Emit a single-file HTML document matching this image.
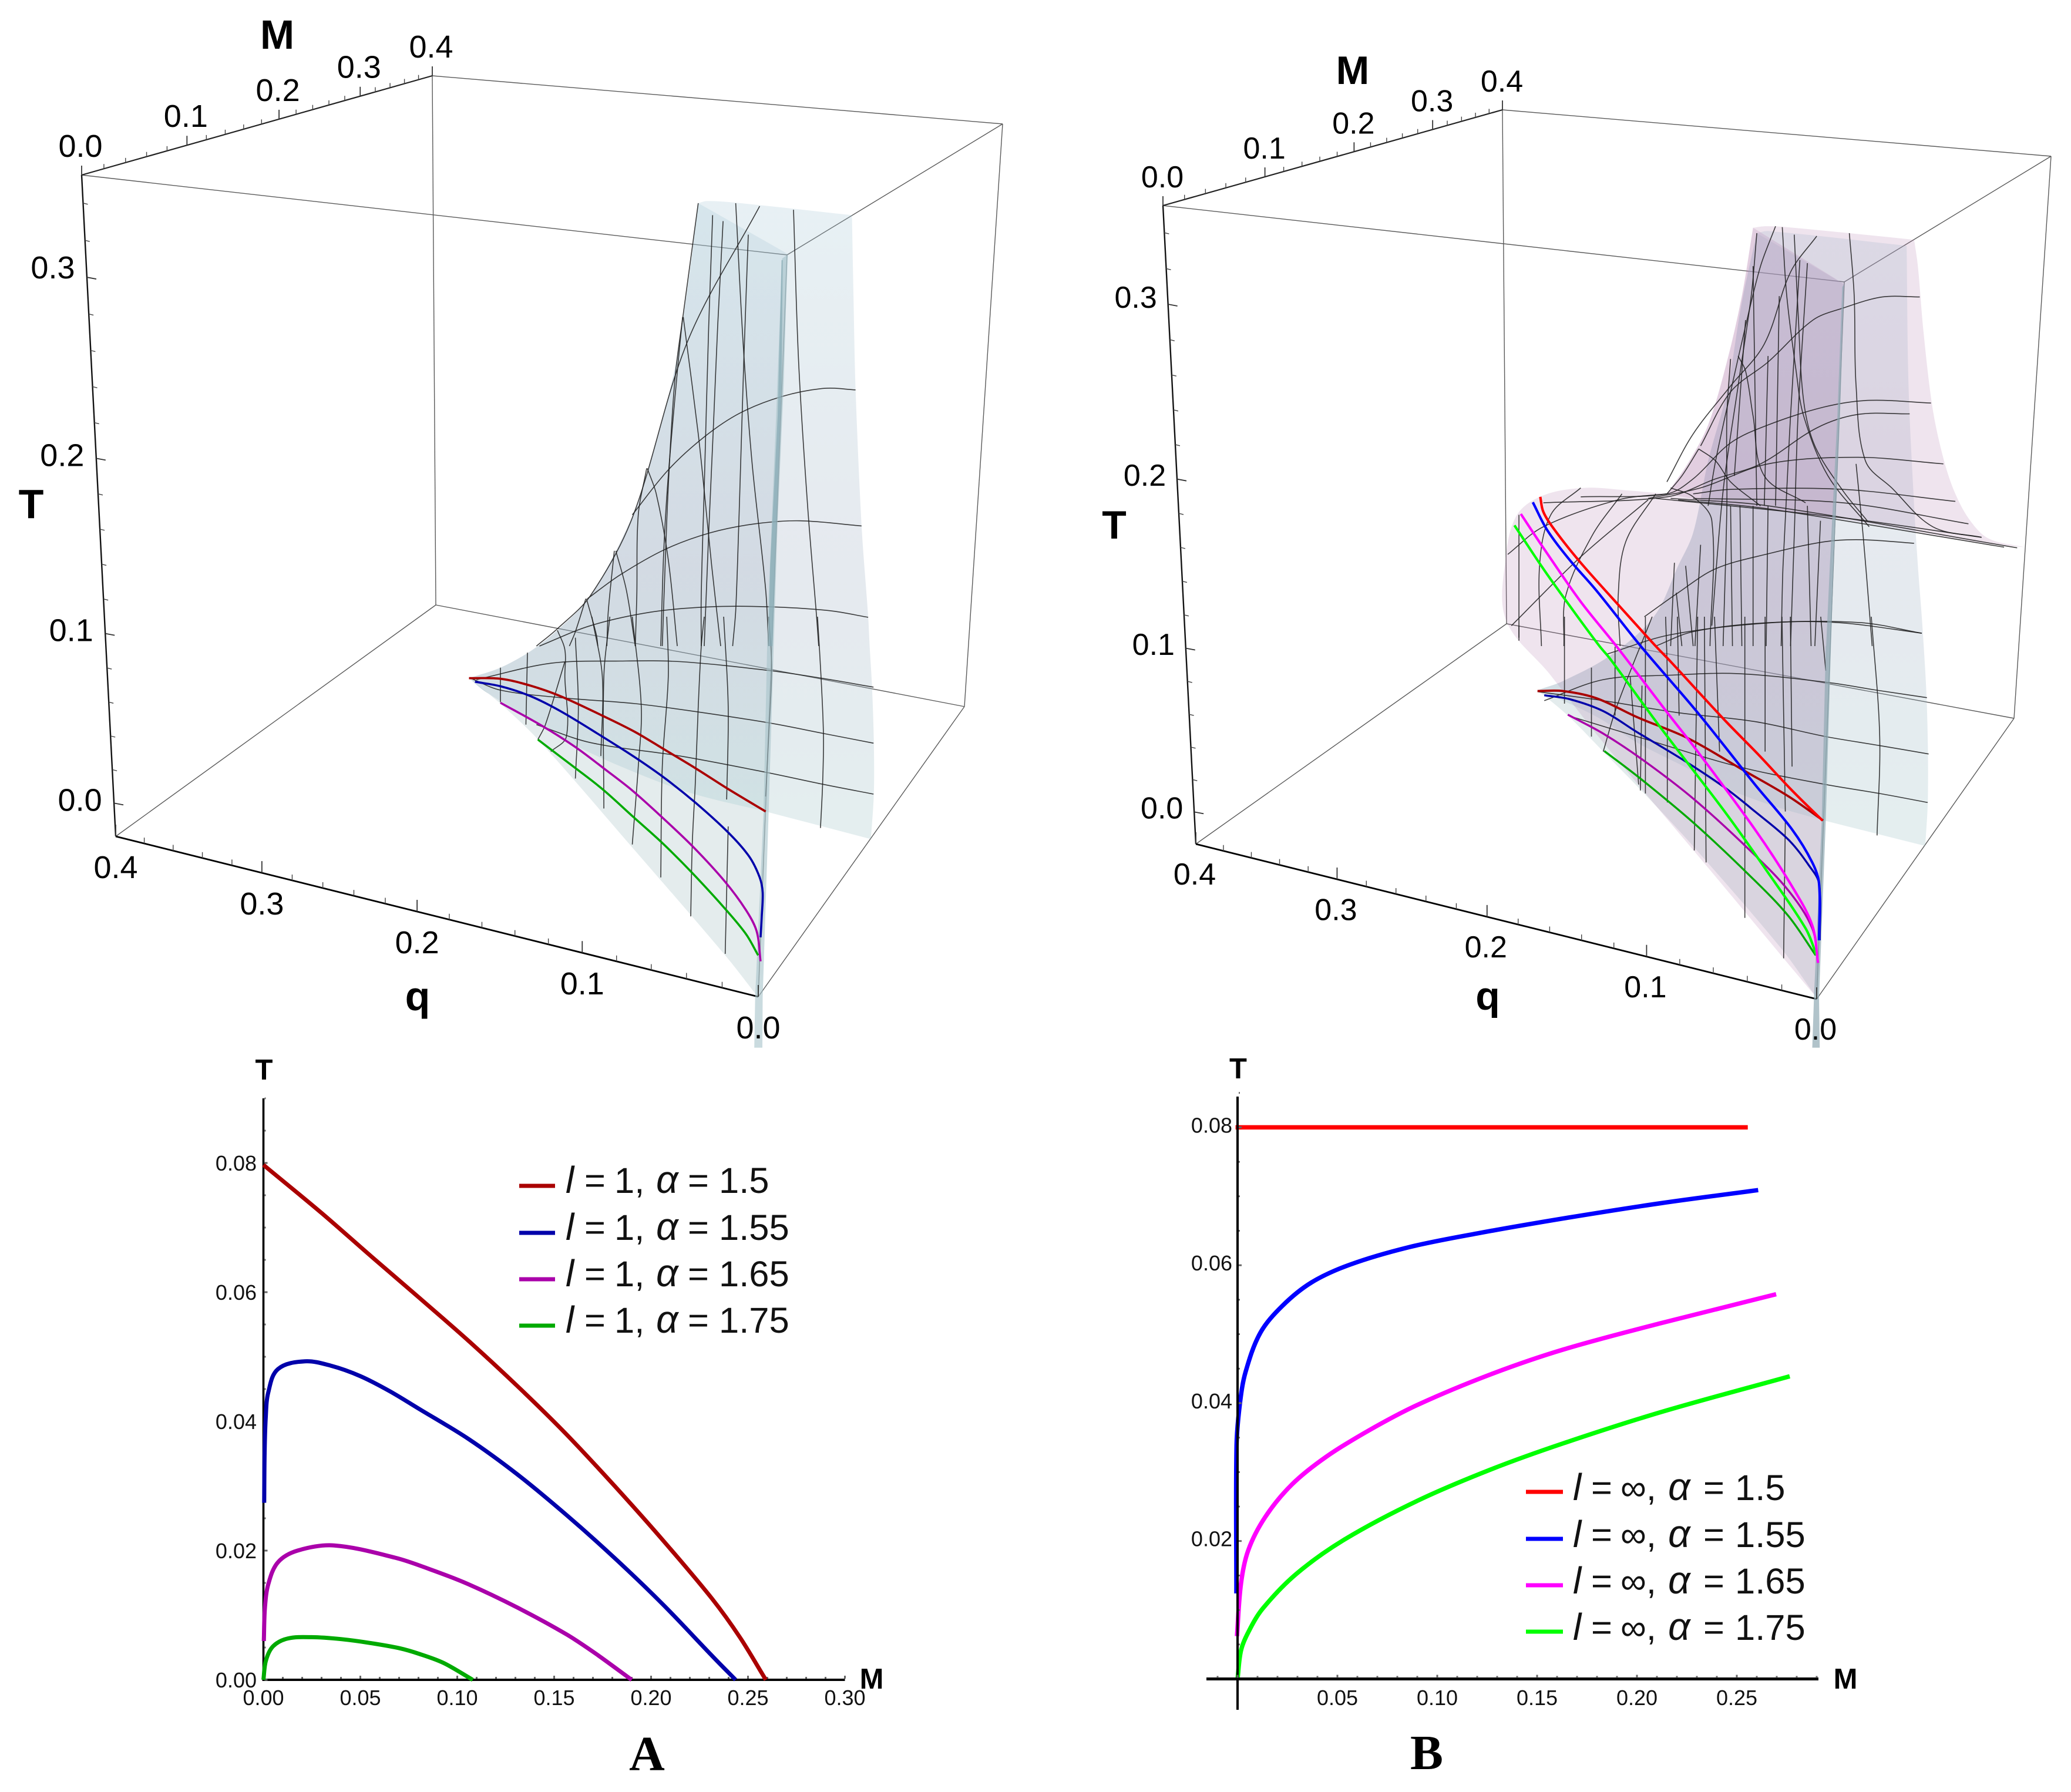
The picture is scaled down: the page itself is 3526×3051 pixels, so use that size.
<!DOCTYPE html>
<html lang="en">
<head>
<meta charset="utf-8">
<title>Phase surfaces and T(M) curves</title>
<style>
html,body{margin:0;padding:0;background:#fff;}
svg{display:block;font-family:"Liberation Sans",sans-serif;}
.tick{font-size:36px;fill:#111;}
.axis-title{font-weight:bold;fill:#000;}
.legend{font-size:61.5px;fill:#111;}
.legend .al{font-style:italic;font-size:66px;}
.legend .el{font-style:italic;font-size:64px;}
.panel-letter{font-family:"Liberation Serif",serif;font-weight:bold;font-size:84px;fill:#000;}
</style>
</head>
<body>
<svg id="figure" xmlns="http://www.w3.org/2000/svg" width="3526" height="3051" viewBox="0 0 3526 3051">
<rect width="3526" height="3051" fill="#fff"/>
<g id="panel-left"></g>
<g id="panel-right"></g>
<g id="chart-a"></g>
<g id="chart-b"></g>

<g>
<text class="axis-title" font-size="70" x="53" y="882" text-anchor="middle">T</text>
<text class="axis-title" font-size="70" x="472" y="83" text-anchor="middle">M</text>
<text class="axis-title" font-size="70" x="711" y="1720" text-anchor="middle">q</text>
</g>
<g>
<text class="axis-title" font-size="68" x="1897" y="917" text-anchor="middle">T</text>
<text class="axis-title" font-size="68" x="2303" y="143" text-anchor="middle">M</text>
<text class="axis-title" font-size="68" x="2533" y="1719" text-anchor="middle">q</text>
</g>

<g>
<text class="axis-title" font-size="49" x="449.5" y="1838" text-anchor="middle">T</text>
<text class="axis-title" font-size="49" x="1484" y="2875" text-anchor="middle">M</text>
<text class="panel-letter" x="1101.5" y="3014" text-anchor="middle">A</text>
</g>
<g>
<text class="axis-title" font-size="49" x="2108" y="1836" text-anchor="middle">T</text>
<text class="axis-title" font-size="49" x="3142" y="2875" text-anchor="middle">M</text>
<text class="panel-letter" x="2429" y="3012" text-anchor="middle">B</text>
</g>

<g>
<g><line x1="884" x2="945" y1="2019" y2="2019" stroke="#aa0000" stroke-width="7"/><text class="legend" y="2031"><tspan x="963" class="el">l</tspan><tspan x="995">=</tspan><tspan x="1046">1,</tspan><tspan x="1117" class="al">α</tspan><tspan x="1171">=</tspan><tspan x="1224">1.5</tspan></text></g>
<g><line x1="884" x2="945" y1="2099" y2="2099" stroke="#0000aa" stroke-width="7"/><text class="legend" y="2111"><tspan x="963" class="el">l</tspan><tspan x="995">=</tspan><tspan x="1046">1,</tspan><tspan x="1117" class="al">α</tspan><tspan x="1171">=</tspan><tspan x="1224">1.55</tspan></text></g>
<g><line x1="884" x2="945" y1="2178" y2="2178" stroke="#aa00aa" stroke-width="7"/><text class="legend" y="2190"><tspan x="963" class="el">l</tspan><tspan x="995">=</tspan><tspan x="1046">1,</tspan><tspan x="1117" class="al">α</tspan><tspan x="1171">=</tspan><tspan x="1224">1.65</tspan></text></g>
<g><line x1="884" x2="945" y1="2257" y2="2257" stroke="#00aa00" stroke-width="7"/><text class="legend" y="2269"><tspan x="963" class="el">l</tspan><tspan x="995">=</tspan><tspan x="1046">1,</tspan><tspan x="1117" class="al">α</tspan><tspan x="1171">=</tspan><tspan x="1224">1.75</tspan></text></g>
</g>
<g>
<g><line x1="2598" x2="2661" y1="2540" y2="2540" stroke="#ff0000" stroke-width="7"/><text class="legend" y="2554"><tspan x="2678" class="el">l</tspan><tspan x="2709">=</tspan><tspan x="2759">∞,</tspan><tspan x="2840" class="al">α</tspan><tspan x="2900">=</tspan><tspan x="2954">1.5</tspan></text></g>
<g><line x1="2598" x2="2661" y1="2620" y2="2620" stroke="#0000ff" stroke-width="7"/><text class="legend" y="2634"><tspan x="2678" class="el">l</tspan><tspan x="2709">=</tspan><tspan x="2759">∞,</tspan><tspan x="2840" class="al">α</tspan><tspan x="2900">=</tspan><tspan x="2954">1.55</tspan></text></g>
<g><line x1="2598" x2="2661" y1="2699" y2="2699" stroke="#ff00ff" stroke-width="7"/><text class="legend" y="2713"><tspan x="2678" class="el">l</tspan><tspan x="2709">=</tspan><tspan x="2759">∞,</tspan><tspan x="2840" class="al">α</tspan><tspan x="2900">=</tspan><tspan x="2954">1.65</tspan></text></g>
<g><line x1="2598" x2="2661" y1="2778" y2="2778" stroke="#00ff00" stroke-width="7"/><text class="legend" y="2792"><tspan x="2678" class="el">l</tspan><tspan x="2709">=</tspan><tspan x="2759">∞,</tspan><tspan x="2840" class="al">α</tspan><tspan x="2900">=</tspan><tspan x="2954">1.75</tspan></text></g>
</g>
</svg>

<script>
/* ---------- Chart A values (M, T) ---------- */
const aXTickValues = [0, 0.05, 0.10, 0.15, 0.20, 0.25, 0.30];
const aXTickLabels = ['0.00', '0.05', '0.10', '0.15', '0.20', '0.25', '0.30'];
const aYTickValues = [0, 0.02, 0.04, 0.06, 0.08];
const aYTickLabels = ['0.00', '0.02', '0.04', '0.06', '0.08'];
const aRedM = [0, 0.0302, 0.0554, 0.0805, 0.1057, 0.1309, 0.156, 0.1812, 0.2064, 0.2316, 0.246, 0.2592];
const aRedT = [0.0797, 0.0722, 0.0656, 0.0591, 0.0525, 0.0455, 0.0381, 0.03, 0.0215, 0.0125, 0.0065, 0];
const aBlueM = [0.0004, 0.0006, 0.0012, 0.0025, 0.0075, 0.0214, 0.035, 0.05, 0.065, 0.0805, 0.1057, 0.131, 0.156, 0.181, 0.206, 0.2315, 0.2436];
const aBlueT = [0.0274, 0.035, 0.0407, 0.0445, 0.0481, 0.0493, 0.0486, 0.047, 0.0447, 0.0419, 0.0373, 0.0318, 0.0256, 0.0189, 0.0117, 0.0037, 0];
const aMagentaM = [0.0002, 0.0008, 0.0025, 0.0075, 0.0176, 0.0365, 0.068, 0.086, 0.1057, 0.1309, 0.156, 0.1712, 0.19];
const aMagentaT = [0.006, 0.0112, 0.0148, 0.0182, 0.02, 0.0208, 0.0189, 0.0171, 0.0148, 0.0112, 0.0071, 0.0041, 0];
const aGreenM = [0, 0.0013, 0.005, 0.0126, 0.025, 0.04, 0.055, 0.07, 0.0805, 0.093, 0.108];
const aGreenT = [0, 0.003, 0.0052, 0.0064, 0.0066, 0.0063, 0.0057, 0.0049, 0.004, 0.0026, 0];

/* ---------- Chart B values (M, T) ---------- */
const bXTickValues = [0.05, 0.10, 0.15, 0.20, 0.25];
const bXTickLabels = ['0.05', '0.10', '0.15', '0.20', '0.25'];
const bYTickValues = [0.02, 0.04, 0.06, 0.08];
const bYTickLabels = ['0.02', '0.04', '0.06', '0.08'];
const bRedM = [-0.001, 0.1, 0.2555];
const bRedT = [0.08, 0.08, 0.08];
const bBlueM = [-0.0006, -0.0005, 0.0012, 0.004, 0.0114, 0.0224, 0.037, 0.0564, 0.0856, 0.1197, 0.1634, 0.212, 0.2607];
const bBlueT = [0.0124, 0.0339, 0.04, 0.0445, 0.0502, 0.0541, 0.0575, 0.0601, 0.0626, 0.0646, 0.0668, 0.069, 0.0709];
const bMagentaM = [-0.0003, 0.0017, 0.0054, 0.0139, 0.0272, 0.0443, 0.0661, 0.0905, 0.127, 0.1634, 0.212, 0.2697];
const bMagentaT = [0.0062, 0.0138, 0.0187, 0.0235, 0.0282, 0.0322, 0.0361, 0.0398, 0.0442, 0.0478, 0.0516, 0.0558];
const bGreenM = [0, 0.0017, 0.0054, 0.0126, 0.0297, 0.054, 0.0905, 0.127, 0.1634, 0.212, 0.2765];
const bGreenT = [0, 0.0041, 0.0068, 0.0102, 0.0153, 0.0203, 0.0259, 0.0304, 0.0342, 0.0387, 0.0439];

/* ---------- 3D axis tick values ---------- */
const boxQMajor = [0, 0.1, 0.2, 0.3, 0.4];
const boxQLabels = ['0.0', '0.1', '0.2', '0.3', '0.4'];
const boxMMajor = [0, 0.1, 0.2, 0.3, 0.4];
const boxMLabels = ['0.0', '0.1', '0.2', '0.3', '0.4'];
const boxTMajor = [0, 0.1, 0.2, 0.3];
const boxTLabels = ['0.0', '0.1', '0.2', '0.3'];
const boxQMinor = [0.02, 0.04, 0.06, 0.08, 0.12, 0.14, 0.16, 0.18, 0.22, 0.24, 0.26, 0.28, 0.32, 0.34, 0.36, 0.38];
const boxMMinor = [0.02, 0.04, 0.06, 0.08, 0.12, 0.14, 0.16, 0.18, 0.22, 0.24, 0.26, 0.28, 0.32, 0.34, 0.36, 0.38];
const boxTMinor = [0.02, 0.04, 0.06, 0.08, 0.12, 0.14, 0.16, 0.18, 0.22, 0.24, 0.26, 0.28, 0.32, 0.34];

/* ---------- Left panel curves and surface traces, read in view-plane units ---------- */
const leftCurveRed = [95,205, 200,207, 300,230, 400,265, 540,330, 650,385, 750,445, 850,505, 960,575, 1085,650];
const leftCurveBlue = [115,217, 200,232, 300,265, 400,315, 540,400, 650,470, 750,540, 850,620, 960,720, 1030,800, 1065,870, 1075,920, 1072,1000, 1068,1070];
const leftCurveMagenta = [200,287, 340,365, 450,435, 550,510, 640,580, 740,670, 845,770, 950,885, 1020,980, 1055,1050, 1068,1150];
const leftCurveGreen = [325,410, 450,505, 540,575, 640,665, 740,755, 840,855, 950,975, 1020,1060, 1060,1130];

const leftEdgeLower = [95,205, 200,170, 300,115, 390,45];
const leftEdgeUpper = [500,1400, 640,1135, 700,950, 780,650, 830,330, 860,90];
const leftTopEdge = [860,90, 890,83, 1000,90, 1373,130];
const leftRightUpper = [1373,130, 1378,400, 1385,710, 1405,1165, 1427,1470];
const leftRightLower = [1432,98, 1440,235, 1446,420, 1446,590, 1436,742];
const leftFoldBase = [1436,742, 1085,650];
const leftMainLower = [1085,650, 840,590, 650,520, 450,430, 300,340, 150,250, 95,205];
const leftDiagonal = [860,90, 1160,260];
const leftTriangleEdge = [95,205, 200,290, 330,415, 640,770, 950,1130, 1060,1270];
const leftStripOuterUp = [1158,262, 1145,700, 1125,1150, 1112,1568];
const leftStripOuterLow = [1095,650, 1075,1270, 1074,1438, 1047,1438, 1050,1270, 1078,650, 1090,98];
const leftStripBackUp = [1095,1400, 1120,800, 1140,275];
const leftStripInner = [1142,280, 1138,700, 1118,1250, 1108,1568, 1094,1568, 1100,1300, 1125,800, 1138,280];

const leftMeshUpper = [
  [1178,112, 1195,620, 1225,1100, 1255,1470, 1262,1568],
  [985,90, 1010,560, 1040,960, 1085,1380, 1095,1568],
  [1027,195, 1012,620, 995,1170, 985,1450, 975,1568],
  [943,150, 925,500, 910,850, 895,1190, 880,1568],
  [908,130, 895,500, 880,1040, 870,1400, 870,1568],
  [810,470, 860,860, 885,1100, 905,1300, 935,1568],
  [860,90, 810,460, 785,650, 770,850, 755,1150, 740,1568],
  [808,470, 795,600, 760,1000, 745,1250, 735,1568],
  [690,975, 720,1060, 760,1280, 790,1568],
  [688,975, 660,1130, 655,1400, 650,1568],
  [585,1250, 620,1380, 650,1568],
  [580,1250, 560,1450, 555,1568],
  [487,1410, 520,1530, 525,1568],
  [485,1410, 450,1520, 430,1568],
  [1065,100, 825,550, 640,1140, 500,1400, 390,1510, 320,1568],
  [640,1130, 760,980, 880,870, 1000,790, 1140,735, 1280,708, 1385,713],
  [490,1410, 600,1330, 750,1245, 900,1190, 1050,1160, 1200,1150, 1405,1167],
  [330,1568, 500,1500, 700,1455, 900,1437, 1100,1437, 1300,1450, 1427,1472]
];
const leftMeshLower = [
  [1258,0, 1270,205, 1278,400, 1275,560, 1268,705],
  [1095,0, 1105,170, 1095,400, 1085,600],
  [880,0, 870,100, 860,300, 850,560, 840,760, 835,1000],
  [755,0, 760,200, 740,500, 735,870],
  [640,0, 670,300, 660,500, 640,760],
  [565,0, 545,200, 545,640],
  [505,0, 540,200, 535,465],
  [450,70, 460,300, 450,540],
  [415,150, 350,360, 325,410],
  [390,45, 415,110, 415,200, 420,400, 368,450],
  [290,120, 285,360],
  [200,170, 200,285],
  [945,0, 960,300, 955,610],
  [960,700, 950,1125],
  [120,210, 370,155, 600,148, 800,150, 1100,180, 1270,205, 1445,235],
  [100,205, 200,245, 400,270, 650,290, 860,318, 1100,355, 1280,390, 1445,422],
  [320,360, 500,420, 800,465, 1090,520, 1280,560, 1445,592]
];

/* ---------- Right panel curves and surface traces ---------- */
const rightBrightRedUpper = [192,1070, 200,1120, 230,1180, 300,1290, 400,1430, 500,1568];
const rightBrightRedLower = [600,150, 760,345, 860,460, 960,580, 1050,680];
const rightBrightBlueUpper = [172,1088, 210,1180, 270,1280, 340,1380, 460,1568];
const rightBrightBlueLower = [680,320, 850,560, 960,710, 1020,820, 1040,890, 1040,1080];
const rightBrightMagentaUpper = [140,1127, 200,1240, 300,1420, 395,1568];
const rightBrightMagentaLower = [590,320, 680,450, 850,710, 960,900, 1020,1030, 1037,1155];
const rightBrightGreenUpper = [123,1165, 200,1310, 280,1450, 350,1568];
const rightBrightGreenLower = [420,140, 570,370, 760,650, 880,840, 1000,1040, 1033,1130];
const rightDarkRed = [205,248, 280,248, 380,272, 500,335, 650,405, 820,515, 950,600, 1052,680];
const rightDarkBlue = [225,262, 300,275, 400,315, 500,385, 640,480, 760,570, 850,650, 950,745, 1010,830, 1040,890, 1042,1080];
const rightDarkMagenta = [295,327, 400,390, 520,480, 670,610, 840,785, 950,915, 1020,1040, 1037,1155];
const rightDarkGreen = [403,448, 510,540, 670,690, 840,870, 950,1000, 1030,1130];

const rightBlueEdgeLower = [205,245, 280,215, 420,130, 550,0];
const rightBlueEdgeUpper = [560,1300, 600,1190, 640,950, 690,720, 730,420, 770,190];
const rightBlueTop = [770,190, 800,183, 1170,232];
const rightBlueRightUpper = [1170,232, 1175,700, 1190,1100, 1200,1300, 1212,1500];
const rightBlueRightLower = [1360,300, 1363,600, 1355,765];
const rightBlueBase = [1355,765, 1055,680];
const rightBlueMainLower = [1055,680, 900,630, 760,570, 640,500, 500,420, 390,340, 290,285, 205,245];
const rightBlueDiagonal = [770,190, 1003,360];
const rightBlueTriangle = [205,245, 295,330, 400,450, 530,600, 670,770, 930,1110, 1032,1270];
const rightPinkLeftEdge = [530,1060, 590,950, 640,830, 690,620, 730,400, 760,172];
const rightPinkTop = [760,172, 790,167, 850,170, 1190,212];
const rightPinkRight = [1190,212, 1200,300, 1215,520, 1240,780, 1270,950, 1300,1060, 1340,1150, 1390,1210, 1485,1238];
const rightPinkRidge = [1485,1238, 1380,1225, 1000,1145, 640,1085, 530,1060];
const rightPinkDiagonal = [760,172, 1003,360];
const rightPinkFold = [1003,360, 975,1135];
const rightPinkInnerRidge = [975,1135, 640,1085, 530,1060];
const rightPinkLowerUpper = [530,1060, 420,1048, 310,1040, 200,1065, 130,1130, 100,1270, 100,1480];
const rightPinkLowerEdge = [240,190, 400,420, 750,890, 935,1140, 1032,1270];
const rightStripOuterUp = [1003,360, 992,800, 975,1300, 968,1568];
const rightStripOuterLow = [1060,680, 1040,1270, 1042,1438, 1020,1438, 1025,1270, 1048,680, 1060,98];
const rightStripBackUp = [955,1568, 965,1300, 985,800, 998,370];

const rightMeshUpper = [
  [820,167, 780,300, 740,500, 700,720, 660,950, 640,1100],
  [838,170, 850,400, 875,650, 895,800, 960,1000, 1070,1170],
  [1017,190, 1030,400, 1035,700, 1060,950, 1130,1040, 1240,1170, 1370,1205],
  [870,195, 880,450, 895,750, 925,900, 1000,1050, 1065,1150],
  [930,200, 860,320, 790,560, 700,700, 600,860, 530,1020],
  [770,190, 755,400, 720,700, 680,1050, 650,1500],
  [905,290, 880,800, 870,1200, 860,1568],
  [885,280, 860,800, 840,1300, 835,1568],
  [720,600, 740,650, 760,800, 790,1000, 900,1090],
  [700,610, 690,800, 690,1100, 680,1568],
  [615,910, 660,950, 700,1020, 780,1100],
  [615,910, 570,1000, 530,1060],
  [540,1040, 600,1070, 650,1150, 645,1568],
  [105,1262, 200,1170, 400,1080, 530,1060],
  [1205,403, 1105,403, 1000,440, 920,480, 800,620, 700,720, 620,900],
  [1235,757, 1070,748, 950,770, 800,830, 700,890, 600,1010, 530,1060, 300,1070],
  [1178,793, 1040,795, 930,840, 780,960, 660,1010, 530,1070, 200,1090],
  [1268,960, 1040,938, 800,960, 620,1040, 480,1075],
  [1300,1085, 1000,1045, 700,1045, 600,1060],
  [1335,1160, 1000,1090, 600,1075],
  [1370,1205, 1000,1140, 500,1075],
  [1465,1240, 800,1100, 540,1075],
  [1430,1238, 800,1110, 560,1080],
  [1190,1225, 1050,1213, 950,1220, 800,1260, 660,1310, 560,1390, 470,1470],
  [1210,1525, 1050,1490, 800,1490, 600,1520, 500,1568],
  [300,1040, 220,1130, 190,1300, 195,1568],
  [410,1060, 330,1200, 260,1400, 255,1568],
  [500,1060, 420,1220, 400,1400, 405,1568],
  [480,1080, 300,1270, 115,1500],
  [135,1130, 135,1540],
  [550,1290, 540,1568],
  [580,1300, 600,1568],
  [760,1100, 760,1568],
  [800,1100, 795,1568],
  [1035,960, 1055,1215, 1078,1568],
  [620,1230, 605,1568],
  [700,1100, 705,1568],
  [725,1100, 730,1568],
  [905,1100, 915,1568],
  [940,1150, 925,1568],
  [555,1390, 570,1568],
  [760,300, 770,1100],
  [800,600, 790,1100],
  [830,400, 820,1100],
  [740,480, 710,1000]
];
const rightMeshLower = [
  [225,280, 400,210, 600,195, 800,190, 1070,220, 1210,245, 1360,270],
  [205,250, 400,280, 620,320, 850,350, 1060,400, 1220,430, 1365,458],
  [310,335, 500,400, 800,500, 1060,560, 1220,590, 1362,620],
  [410,125, 600,60, 900,20, 1100,20, 1345,55],
  [1195,0, 1220,400, 1212,730],
  [285,0, 285,290],
  [150,30, 150,80],
  [365,170, 365,400],
  [435,100, 435,330],
  [400,450, 440,300, 545,0],
  [515,230, 510,580],
  [585,0, 590,200, 590,620],
  [680,0, 670,780],
  [700,0, 705,820],
  [820,0, 820,1005],
  [930,0, 940,650],
  [940,680, 935,1140],
  [1045,0, 1060,180],
  [525,590, 525,0],
  [730,0, 745,450],
  [880,0, 880,450],
  [955,0, 960,500],
  [620,0, 625,330],
  [480,200, 505,560]
];

/* ---------- Rendering ---------- */
const NS = 'http://www.w3.org/2000/svg';
const svgRoot = document.getElementById('figure');

const defs = document.createElementNS(NS, 'defs');
defs.innerHTML =
  '<linearGradient id="blueSheet" x1="0" y1="0" x2="0" y2="1">' +
  '<stop offset="0" stop-color="#a4c6d4"/><stop offset="0.6" stop-color="#9bacc0"/><stop offset="1" stop-color="#96bec2"/></linearGradient>';
svgRoot.insertBefore(defs, svgRoot.firstChild);

function addEl(parent, tag, attrs, name) {
  const el = document.createElementNS(NS, tag);
  for (const k in attrs) el.setAttribute(k, attrs[k]);
  
  
  parent.appendChild(el);
  return el;
}
function addText(parent, x, y, str, attrs, name) {
  const el = addEl(parent, 'text', Object.assign({x: x, y: y}, attrs), name);
  el.textContent = str;
  return el;
}
function addLine(parent, p, q, stroke, width, name) {
  return addEl(parent, 'line', {x1: p[0], y1: p[1], x2: q[0], y2: q[1], stroke: stroke, 'stroke-width': width}, name);
}
function unitVec(a, b) {
  const dx = b[0] - a[0], dy = b[1] - a[1], n = Math.hypot(dx, dy) || 1;
  return [dx / n, dy / n];
}
function smoothSeg(pts, includeMove) {
  let d = (includeMove ? 'M' : 'L') + pts[0][0].toFixed(1) + ' ' + pts[0][1].toFixed(1);
  for (let i = 0; i < pts.length - 1; i++) {
    const p0 = pts[Math.max(i - 1, 0)], p1 = pts[i], p2 = pts[i + 1], p3 = pts[Math.min(i + 2, pts.length - 1)];
    const len = Math.hypot(p2[0] - p1[0], p2[1] - p1[1]) / 3;
    const t1 = unitVec(p0, p2), t2 = unitVec(p1, p3);
    d += 'C' + (p1[0] + t1[0] * len).toFixed(1) + ' ' + (p1[1] + t1[1] * len).toFixed(1) + ' ' + (p2[0] - t2[0] * len).toFixed(1) + ' ' + (p2[1] - t2[1] * len).toFixed(1) + ' ' + p2[0].toFixed(1) + ' ' + p2[1].toFixed(1);
  }
  return d;
}
function areaPath(segments) {
  return segments.map((s, i) => smoothSeg(s, i === 0)).join('') + 'Z';
}

/* view-plane scales for the traced 3D projections */
const viewLeftUpper = {x0: 750, y0: 300, sx: 1.96, sy: 1.96};
const viewLeftLower = {x0: 750, y0: 1050, sx: 1.96, sy: 1.96};
const viewRightUpper = {x0: 2500, y0: 300, sx: 1.568, sy: 1.96};
const viewRightLower = {x0: 2500, y0: 1050, sx: 1.742, sy: 1.96};
function viewX(view, u) { return view.x0 + u / view.sx; }
function viewY(view, v) { return view.y0 + v / view.sy; }
function toView(view, flat) {
  const out = [];
  for (let i = 0; i < flat.length; i += 2) out.push([viewX(view, flat[i]), viewY(view, flat[i + 1])]);
  return out;
}

/* ---- 3D box axis functions ---- */
const qWarp = 0.132, mWarp = 0.288, tWarp = -0.06, tMin = -0.02, tMax = 0.355, boxSpan = 0.4;
function warp(t, b) { return t * (1 + b) / (1 + b * t); }
function boxPoint(box, q, m, T) {
  const u = warp(q / boxSpan, qWarp), v = warp(m / boxSpan, mWarp), w = warp((T - tMin) / (tMax - tMin), tWarp);
  const r = [0, 0];
  for (let a = 0; a < 2; a++) for (let b = 0; b < 2; b++) for (let c = 0; c < 2; c++) {
    const weight = (a ? u : 1 - u) * (b ? v : 1 - v) * (c ? w : 1 - w);
    r[0] += weight * box.corners[a][b][c][0];
    r[1] += weight * box.corners[a][b][c][1];
  }
  return r;
}
function drawBox(g, box) {
  const c = box.corners;
  const edges = [
    [c[1][0][1], c[0][0][1]], [c[0][0][1], c[0][1][1]], [c[1][1][1], c[0][1][1]],
    [c[1][1][1], c[1][1][0]], [c[0][1][1], c[0][1][0]], [c[1][0][0], c[1][1][0]],
    [c[1][1][0], c[0][1][0]], [c[0][1][0], c[0][0][0]], [c[0][0][1], c[0][0][0]]
  ];
  edges.forEach(function (e) { addLine(g, e[0], e[1], '#5a5a5a', 1.4, 'box-edge'); });
  addLine(g, c[1][0][1], c[1][0][0], '#111', 2.4, 't-axis-line');
  addLine(g, c[1][0][1], c[1][1][1], '#222', 2.2, 'm-axis-line');
  addLine(g, c[1][0][0], c[0][0][0], '#000', 2.8, 'q-axis-line');
}
function drawBoxTicks(g, box) {
  boxQMajor.forEach(function (q, i) {
    const p = boxPoint(box, q, 0, tMin);
    addLine(g, p, [p[0], p[1] - 20], '#333', 1.8, 'q-major-tick');
    addText(g, p[0] + box.qOff[0], p[1] + box.qOff[1] + box.font * 0.35, boxQLabels[i], {'font-size': box.font, 'text-anchor': 'middle', fill: '#000'}, 'q-tick-label');
  });
  boxQMinor.forEach(function (q) {
    const p = boxPoint(box, q, 0, tMin);
    addLine(g, p, [p[0], p[1] - 10], '#444', 1.4, 'q-minor-tick');
  });
  boxMMajor.forEach(function (m, i) {
    const p = boxPoint(box, boxSpan, m, tMax);
    addLine(g, p, [p[0], p[1] - 16], '#333', 1.8, 'm-major-tick');
    addText(g, p[0] + box.mOff[0], p[1] + box.mOff[1] + box.font * 0.35, boxMLabels[i], {'font-size': box.font, 'text-anchor': 'middle', fill: '#000'}, 'm-tick-label');
  });
  boxMMinor.forEach(function (m) {
    const p = boxPoint(box, boxSpan, m, tMax);
    addLine(g, p, [p[0], p[1] - 8], '#444', 1.4, 'm-minor-tick');
  });
  boxTMajor.forEach(function (t, i) {
    const p = boxPoint(box, boxSpan, 0, t);
    addLine(g, p, [p[0] + 16, p[1] + 3], '#333', 1.8, 't-major-tick');
    const nudge = t === 0.3 ? box.tTopNudge : 0;
    addText(g, p[0] + box.tOff[0], p[1] + box.tOff[1] + nudge + box.font * 0.35, boxTLabels[i], {'font-size': box.font, 'text-anchor': 'middle', fill: '#000'}, 't-tick-label');
  });
  boxTMinor.forEach(function (t) {
    const p = boxPoint(box, boxSpan, 0, t);
    addLine(g, p, [p[0] + 8, p[1] + 2], '#444', 1.4, 't-minor-tick');
  });
}
function drawMesh(g, view, lines, name) {
  lines.forEach(function (flat) {
    addEl(g, 'path', {d: smoothSeg(toView(view, flat), true), fill: 'none', stroke: '#1c1c1c', 'stroke-width': 1.6, 'stroke-opacity': 0.85}, name);
  });
}
function drawCurve3D(g, pts, color, width, name) {
  addEl(g, 'path', {d: smoothSeg(pts, true), fill: 'none', stroke: color, 'stroke-width': width, 'stroke-linecap': 'butt'}, name);
}

/* ---- Left 3D panel ---- */
const boxLeft = {
  corners: [
    [[[1291, 1697], [1340, 434]], [[1642, 1203], [1707, 211]]],
    [[[197, 1424], [139, 298]], [[742, 1030], [736, 129]]]
  ],
  font: 54, qOff: [0, 52], mOff: [-2, -50], tOff: [-58, -6], tTopNudge: -11
};
(function () {
  const g = document.getElementById('panel-left');
  const U = viewLeftUpper, L = viewLeftLower;
  drawBox(g, boxLeft);
  const leftEdge = toView(L, leftEdgeLower).concat(toView(U, leftEdgeUpper));
  const rightEdge = toView(U, leftRightUpper).concat(toView(L, leftRightLower));
  const lower = toView(L, leftMainLower);
  addEl(g, 'path', {d: areaPath([leftEdge, toView(U, leftTopEdge), rightEdge, toView(L, leftFoldBase), lower]), fill: 'url(#blueSheet)', 'fill-opacity': 0.26}, 'surface-outer-sheet');
  addEl(g, 'path', {d: areaPath([leftEdge, toView(U, leftDiagonal), lower]), fill: 'url(#blueSheet)', 'fill-opacity': 0.25}, 'surface-inner-sheet');
  addEl(g, 'path', {d: areaPath([toView(L, leftTriangleEdge), lower]), fill: '#93b4b8', 'fill-opacity': 0.25}, 'surface-lower-sheet');
  drawMesh(g, U, leftMeshUpper, 'surface-mesh-line');
  drawMesh(g, L, leftMeshLower, 'surface-mesh-line');
  const stripPts = toView(U, leftStripOuterUp).concat(toView(L, leftStripOuterLow), toView(U, leftStripBackUp));
  addEl(g, 'path', {d: 'M' + stripPts.map(function (p) { return p[0].toFixed(1) + ' ' + p[1].toFixed(1); }).join('L') + 'Z', fill: '#a6c3ca', 'fill-opacity': 0.6}, 'surface-fold-strip');
  const inner = toView(U, leftStripInner);
  addEl(g, 'path', {d: 'M' + inner.map(function (p) { return p[0].toFixed(1) + ' ' + p[1].toFixed(1); }).join('L') + 'Z', fill: '#86a9b3', 'fill-opacity': 0.7}, 'surface-fold-core');
  drawCurve3D(g, toView(L, leftCurveGreen), '#00aa00', 3.6, 'curve-3d-alpha-1-75');
  drawCurve3D(g, toView(L, leftCurveMagenta), '#aa00aa', 3.6, 'curve-3d-alpha-1-65');
  drawCurve3D(g, toView(L, leftCurveBlue), '#0000aa', 3.6, 'curve-3d-alpha-1-55');
  drawCurve3D(g, toView(L, leftCurveRed), '#aa0000', 3.8, 'curve-3d-alpha-1-5');
  drawBoxTicks(g, boxLeft);
})();

/* ---- Right 3D panel ---- */
const boxRight = {
  corners: [
    [[[3093, 1701], [3140, 480]], [[3429, 1223], [3492, 266]]],
    [[[2036, 1437], [1980, 350]], [[2565, 1062], [2558, 187]]]
  ],
  font: 52, qOff: [-2, 51], mOff: [-1, -49], tOff: [-55, -7], tTopNudge: -5
};
(function () {
  const g = document.getElementById('panel-right');
  const U = viewRightUpper, L = viewRightLower;
  drawBox(g, boxRight);
  const blueLeft = toView(L, rightBlueEdgeLower).concat(toView(U, rightBlueEdgeUpper));
  const blueRight = toView(U, rightBlueRightUpper).concat(toView(L, rightBlueRightLower));
  const blueLower = toView(L, rightBlueMainLower);
  addEl(g, 'path', {d: areaPath([blueLeft, toView(U, rightBlueTop), blueRight, toView(L, rightBlueBase), blueLower]), fill: 'url(#blueSheet)', 'fill-opacity': 0.26}, 'blue-surface-outer-sheet');
  addEl(g, 'path', {d: areaPath([blueLeft, toView(U, rightBlueDiagonal), blueLower]), fill: 'url(#blueSheet)', 'fill-opacity': 0.25}, 'blue-surface-inner-sheet');
  addEl(g, 'path', {d: areaPath([toView(L, rightBlueTriangle), blueLower]), fill: '#93b4b8', 'fill-opacity': 0.25}, 'blue-surface-lower-sheet');
  const pinkFill = 'rgb(175,120,170)';
  const pinkLeft = toView(U, rightPinkLeftEdge);
  addEl(g, 'path', {d: areaPath([pinkLeft, toView(U, rightPinkTop), toView(U, rightPinkRight), toView(U, rightPinkRidge)]), fill: pinkFill, 'fill-opacity': 0.2}, 'pink-surface-outer-sheet');
  addEl(g, 'path', {d: areaPath([pinkLeft, toView(U, rightPinkDiagonal), toView(U, rightPinkFold), toView(U, rightPinkInnerRidge)]), fill: pinkFill, 'fill-opacity': 0.2}, 'pink-surface-inner-sheet');
  addEl(g, 'path', {d: areaPath([toView(U, rightPinkLowerUpper).concat(toView(L, rightPinkLowerEdge)), toView(U, rightPinkInnerRidge)]), fill: pinkFill, 'fill-opacity': 0.2}, 'pink-surface-lower-sheet');
  drawMesh(g, U, rightMeshUpper, 'surface-mesh-line');
  drawMesh(g, L, rightMeshLower, 'surface-mesh-line');
  const stripPts = toView(U, rightStripOuterUp).concat(toView(L, rightStripOuterLow), toView(U, rightStripBackUp));
  addEl(g, 'path', {d: 'M' + stripPts.map(function (p) { return p[0].toFixed(1) + ' ' + p[1].toFixed(1); }).join('L') + 'Z', fill: '#90aab4', 'fill-opacity': 0.7}, 'surface-fold-strip');
  drawCurve3D(g, toView(L, rightDarkGreen), '#00aa00', 3.4, 'curve-3d-finite-alpha-1-75');
  drawCurve3D(g, toView(L, rightDarkMagenta), '#aa00aa', 3.4, 'curve-3d-finite-alpha-1-65');
  drawCurve3D(g, toView(L, rightDarkBlue), '#0000aa', 3.4, 'curve-3d-finite-alpha-1-55');
  drawCurve3D(g, toView(L, rightDarkRed), '#aa0000', 3.8, 'curve-3d-finite-alpha-1-5');
  drawCurve3D(g, toView(U, rightBrightGreenUpper).concat(toView(L, rightBrightGreenLower)), '#00ff00', 4.2, 'curve-3d-infinite-alpha-1-75');
  drawCurve3D(g, toView(U, rightBrightMagentaUpper).concat(toView(L, rightBrightMagentaLower)), '#ff00ff', 4.2, 'curve-3d-infinite-alpha-1-65');
  drawCurve3D(g, toView(U, rightBrightBlueUpper).concat(toView(L, rightBrightBlueLower)), '#0000ff', 4.2, 'curve-3d-infinite-alpha-1-55');
  drawCurve3D(g, toView(U, rightBrightRedUpper).concat(toView(L, rightBrightRedLower)), '#ff0000', 4.2, 'curve-3d-infinite-alpha-1-5');
  drawBoxTicks(g, boxRight);
})();

/* ---- 2D charts ---- */
function aX(m) { return 448.5 + 3300 * m; }
function aY(t) { return 2860 - 11000 * t; }
function bX(m) { return 2107 + 3400 * m; }
function bY(t) { return 2858.5 - 11739 * t; }
function seriesPts(xs, ys, fx, fy) { return xs.map(function (x, i) { return [fx(x), fy(ys[i])]; }); }

(function () {
  const g = document.getElementById('chart-a');
  addLine(g, [aX(0), aY(0.09)], [aX(0), aY(0) + 2], '#000', 3.6, 'y-axis-line');
  addLine(g, [aX(0) - 2, aY(0)], [aX(0.30), aY(0)], '#000', 4, 'x-axis-line');
  for (let i = 0; i <= 30; i++) {
    const x = aX(i / 100);
    addLine(g, [x, aY(0) - 2], [x, aY(0) - (i % 5 === 0 ? 7 : 5)], '#666', 3, 'x-tick');
  }
  for (let i = 0; i <= 18; i++) {
    const y = aY(i * 0.005);
    addLine(g, [aX(0) + 2, y], [aX(0) + (i % 4 === 0 ? 7 : 4), y], '#666', 3, 'y-tick');
  }
  aXTickValues.forEach(function (v, i) {
    addText(g, aX(v), 2903, aXTickLabels[i], {class: 'tick', 'text-anchor': 'middle'}, 'x-tick-label');
  });
  aYTickValues.forEach(function (v, i) {
    addText(g, 437, aY(v) + 13, aYTickLabels[i], {class: 'tick', 'text-anchor': 'end'}, 'y-tick-label');
  });
  const draw = function (xs, ys, color, name) {
    addEl(g, 'path', {d: smoothSeg(seriesPts(xs, ys, aX, aY), true), fill: 'none', stroke: color, 'stroke-width': 7}, name);
  };
  draw(aRedM, aRedT, '#aa0000', 'series-alpha-1-5');
  draw(aBlueM, aBlueT, '#0000aa', 'series-alpha-1-55');
  draw(aMagentaM, aMagentaT, '#aa00aa', 'series-alpha-1-65');
  draw(aGreenM, aGreenT, '#00aa00', 'series-alpha-1-75');
})();

(function () {
  const g = document.getElementById('chart-b');
  const draw = function (xs, ys, color, name) {
    addEl(g, 'path', {d: smoothSeg(seriesPts(xs, ys, bX, bY), true), fill: 'none', stroke: color, 'stroke-width': 7.5}, name);
  };
  draw(bRedM, bRedT, '#ff0000', 'series-alpha-1-5');
  draw(bBlueM, bBlueT, '#0000ff', 'series-alpha-1-55');
  draw(bMagentaM, bMagentaT, '#ff00ff', 'series-alpha-1-65');
  draw(bGreenM, bGreenT, '#00ff00', 'series-alpha-1-75');
  addLine(g, [bX(0), 1867], [bX(0), 2911], '#000', 4, 'y-axis-line');
  addLine(g, [2054, bY(0)], [3096, bY(0)], '#000', 5, 'x-axis-line');
  for (let i = -1; i <= 29; i++) {
    const x = bX(i / 100);
    addLine(g, [x, bY(0) - 2], [x, bY(0) - (i % 5 === 0 ? 7 : 5)], '#666', 3, 'x-tick');
  }
  for (let i = 1; i <= 17; i++) {
    const y = bY(i * 0.005);
    addLine(g, [bX(0) + 2, y], [bX(0) + (i % 4 === 0 ? 7 : 4), y], '#666', 3, 'y-tick');
  }
  bXTickValues.forEach(function (v, i) {
    addText(g, bX(v), 2903, bXTickLabels[i], {class: 'tick', 'text-anchor': 'middle', 'font-size': 37}, 'x-tick-label');
  });
  bYTickValues.forEach(function (v, i) {
    addText(g, 2098, bY(v) + 9, bYTickLabels[i], {class: 'tick', 'text-anchor': 'end', 'font-size': 37}, 'y-tick-label');
  });
})();
</script>
</body>
</html>
